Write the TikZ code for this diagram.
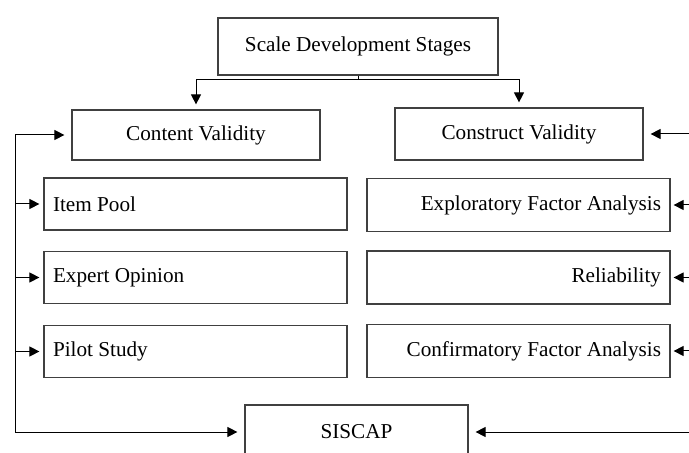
\documentclass[tikz,border=0pt]{standalone}
\usepackage{fontspec}
\setmainfont{Liberation Serif}
\usetikzlibrary{arrows.meta}

\begin{document}
\begin{tikzpicture}[
        x=0.5pt, y=-0.5pt, % one unit is one pixel of the reference
        font=\fontsize{10.6}{12}\selectfont,
        box/.style = {draw=black!75, line width=0.6pt, inner sep=0pt, align=center},
        leftbox/.style = {box, minimum height=26pt, text width=142.5pt, inner xsep=4.5pt, align=flush left},
        rightbox/.style = {box, minimum height=26.5pt, text width=142.5pt, inner xsep=4.5pt, align=flush right},
        arr/.style = {-{Triangle[length=5pt, width=5pt]}, line width=0.5pt}, % connectors
    ]

    \clip (0,0) rectangle (689,453);

    % stages
    \node[box, minimum width=140pt, minimum height=28.5pt] (stages) at (358,46.5) {Scale Development Stages};
    \node[box, minimum width=124pt, minimum height=25pt] (content) at (196,135) {Content Validity};
    \node[box, minimum width=124pt, minimum height=26pt] (construct) at (519,134) {Construct Validity};

    % content validity steps
    \node[leftbox] (pool) at (195.5,204) {Item Pool};
    \node[leftbox] (expert) at (195.5,277.5) {Expert Opinion};
    \node[leftbox] (pilot) at (195.5,351.5) {Pilot Study};

    % construct validity steps
    \node[rightbox] (efa) at (518.5,205) {Exploratory Factor Analysis};
    \node[rightbox] (rel) at (518.5,277.5) {Reliability};
    \node[rightbox] (cfa) at (518.5,351) {Confirmatory Factor Analysis};

    \node[box, minimum width=111.5pt, minimum height=27pt] (siscap) at (356.5,432) {SISCAP};

    % connectors
    \coordinate (split) at (358,80);
    \coordinate (lbus) at (15,135);
    \coordinate (rbus) at (695,134);

    \draw[line width=0.5pt] (stages.south) -- (split);
    \draw[arr, shorten >=2.5pt] (split) -| (content.north);
    \draw[arr, shorten >=2.5pt] (split) -| (construct.north);

    \draw[arr, shorten >=3.5pt] (lbus) |- (siscap.west);
    \draw[arr, shorten >=3.5pt] (lbus) -- (content.west);
    \foreach \n in {pool, expert, pilot}
        \draw[arr, shorten >=2pt] (lbus |- \n.west) -- (\n.west);

    \draw[arr, shorten >=3.5pt] (rbus) |- (siscap.east);
    \draw[arr, shorten >=3.5pt] (rbus) -- (construct.east);
    \foreach \n in {efa, rel, cfa}
        \draw[arr, shorten >=1.5pt] (rbus |- \n.east) -- (\n.east);

\end{tikzpicture}
\end{document}
